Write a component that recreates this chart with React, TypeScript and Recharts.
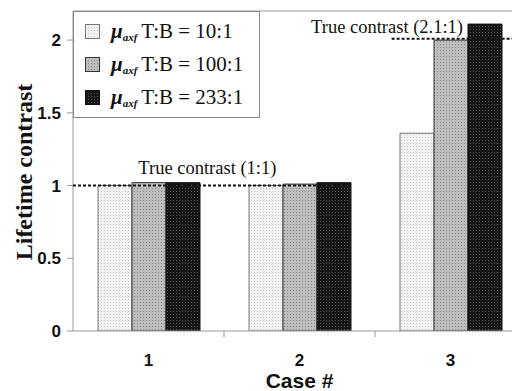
import { Bar, BarChart, Legend, ReferenceDot, ReferenceLine, XAxis, YAxis } from "recharts";

const cases = ["1", "2", "3"];
const casePos = [0.5, 1.5, 2.5];
const ratio10 = [1.0, 1.0, 1.36];
const ratio100 = [1.02, 1.01, 2.0];
const ratio233 = [1.02, 1.02, 2.11];
const yTicks = [0, 0.5, 1, 1.5, 2];

const seriesNames = ["10:1", "100:1", "233:1"];
const trueLabels = ["True contrast (1:1)", "True contrast (2.1:1)"];
const trueLevels = [1, 2.01];
const trueFrom = [0, 2.11];
const trueTo = [1.84, 3];
const labelAt = [0.89, 2.08];
const labelLevel = [1.08, 2.05];

const data = cases.map((c, i) => ({
  case: c,
  pos: casePos[i],
  r10: ratio10[i],
  r100: ratio100[i],
  r233: ratio233[i],
}));

const fills = ["url(#dotLight)", "url(#dotGray)", "url(#dotBlack)"];
const strokes = ["#777", "#333", "#111"];
const keys = ["r10", "r100", "r233"];

const serif = "'Liberation Serif', 'Times New Roman', serif";
const sans = "'Liberation Sans', Arial, sans-serif";

const W = 530;
const H = 383;

const CaseTick = (props: any) => {
  const { x, y, payload, index } = props;
  return (
    <g>
      {index > 0 && (
        <line x1={x - payload.offset} x2={x - payload.offset} y1={y} y2={y + 6} stroke="#999" />
      )}
      <text x={x} y={y + 35} textAnchor="middle" fontFamily={sans} fontWeight="bold" fontSize={17} fill="#111">
        {payload.value}
      </text>
    </g>
  );
};

const LegendBox = () => (
  <div
    style={{
      width: 187,
      height: 107,
      border: "1px solid #888",
      background: "#fff",
      boxSizing: "border-box",
      paddingTop: 3,
      paddingLeft: 11,
      fontFamily: serif,
      fontSize: 21,
      color: "#111",
    }}
  >
    {seriesNames.map((n, i) => (
      <div key={n} style={{ height: 33, display: "flex", alignItems: "center" }}>
        <svg width={15} height={15} style={{ marginRight: 11 }}>
          <rect x={0.5} y={0.5} width={14} height={14} fill={fills[i]} stroke={strokes[i]} />
        </svg>
        <span style={{ fontStyle: "italic", fontWeight: "bold" }}>μ</span>
        <span style={{ fontStyle: "italic", fontWeight: "bold", fontSize: 11, position: "relative", top: 5 }}>axf</span>
        <span style={{ marginLeft: 4, whiteSpace: "nowrap" }}>T:B = {n}</span>
      </div>
    ))}
  </div>
);

const TextMark = (text: string) => (p: any) => (
  <text x={p.cx} y={p.cy} textAnchor="middle" fontFamily={serif} fontSize={18.5} fill="#111">
    {text}
  </text>
);

export default function App() {
  return (
    <div style={{ width: 512, height: H, overflow: "hidden", position: "relative" }}>
      <BarChart
        width={W}
        height={H}
        data={data}
        margin={{ top: 3, right: 12, bottom: 0, left: 0 }}
        barGap={0}
        barCategoryGap={25}
      >
        <defs>
          <pattern id="dotLight" width={3} height={3} patternUnits="userSpaceOnUse">
            <rect width={3} height={3} fill="#f2f2f2" />
            <rect width={1} height={1} fill="#c8c8c8" />
          </pattern>
          <pattern id="dotGray" width={3} height={3} patternUnits="userSpaceOnUse">
            <rect width={3} height={3} fill="#bdbdbd" />
            <rect width={1} height={1} fill="#888" />
          </pattern>
          <pattern id="dotBlack" width={3} height={3} patternUnits="userSpaceOnUse">
            <rect width={3} height={3} fill="#161616" />
            <rect width={1} height={1} fill="#555" />
          </pattern>
        </defs>
        <XAxis
          dataKey="case"
          interval={0}
          height={60}
          tickLine={false}
          tickSize={0}
          tickMargin={0}
          axisLine={{ stroke: "#999" }}
          tick={CaseTick}
          label={(p: any) => {
            const vb = p.viewBox;
            return (
              <text x={vb.x + vb.width / 2} y={vb.y + 57} textAnchor="middle" fontFamily={sans} fontWeight="bold" fontSize={21} fill="#111">
                Case #
              </text>
            );
          }}
        />
        <YAxis
          width={65}
          domain={[0, 2.2]}
          allowDataOverflow
          ticks={yTicks}
          tickSize={6}
          tickMargin={6}
          tickLine={{ stroke: "#999" }}
          axisLine={{ stroke: "#999" }}
          tick={{ fontFamily: sans, fontWeight: "bold", fontSize: 17, fill: "#111" }}
          label={(p: any) => {
            const vb = p.viewBox;
            const cx = vb.x + 16;
            const cy = vb.y + vb.height / 2 + 1;
            return (
              <text
                x={cx}
                y={cy}
                transform={`rotate(-90 ${cx} ${cy})`}
                textAnchor="middle"
                dominantBaseline="central"
                fontFamily={serif}
                fontWeight="bold"
                fontSize={24}
                fill="#111"
              >
                Lifetime contrast
              </text>
            );
          }}
        />
        <ReferenceLine y={2.2} stroke="#999" ifOverflow="visible" />
        {keys.map((k, i) => (
          <Bar key={k} dataKey={k} fill={fills[i]} stroke={strokes[i]} strokeWidth={1} isAnimationActive={false} />
        ))}
        <Legend
          layout="horizontal"
          verticalAlign="middle"
          align="center"
          content={LegendBox}
          wrapperStyle={{ top: 3, left: 65, width: "auto" }}
        />
      </BarChart>

      {/* overlay so the dotted "true contrast" lines sit above the bars */}
      <div style={{ position: "absolute", left: 0, top: 0, pointerEvents: "none" }}>
        <BarChart width={W} height={H} data={data} margin={{ top: 3, right: 12, bottom: 60, left: 65 }}>
          <XAxis xAxisId="num" dataKey="pos" type="number" domain={[0, 3]} allowDataOverflow hide />
          <YAxis domain={[0, 2.2]} allowDataOverflow hide />
          {trueLevels.map((lv, i) => (
            <ReferenceLine
              key={"tl" + i}
              xAxisId="num"
              ifOverflow="visible"
              segment={[
                { x: trueFrom[i], y: lv },
                { x: trueTo[i], y: lv },
              ]}
              stroke="#111"
              strokeWidth={2}
              strokeDasharray="3 2"
            />
          ))}
          {trueLabels.map((t, i) => (
            <ReferenceDot
              key={"lb" + i}
              xAxisId="num"
              ifOverflow="visible"
              x={labelAt[i]}
              y={labelLevel[i]}
              r={0}
              shape={TextMark(t)}
            />
          ))}
        </BarChart>
      </div>
    </div>
  );
}
